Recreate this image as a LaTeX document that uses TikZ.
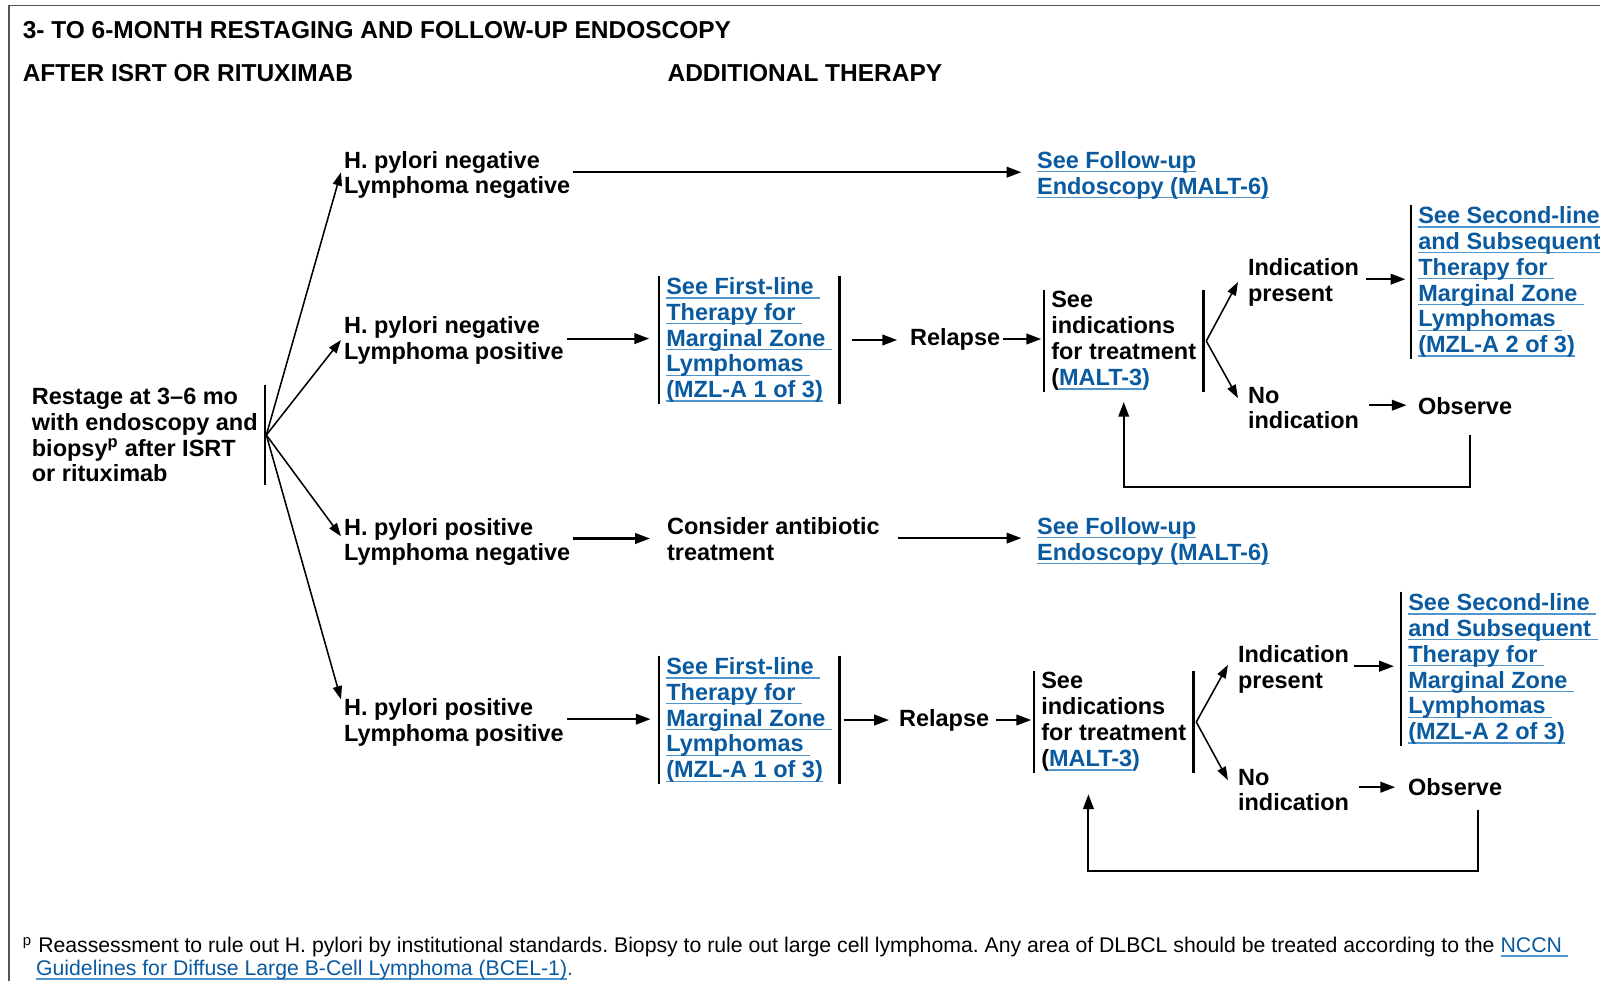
\documentclass[tikz,border=0pt]{standalone}
\usepackage{fontspec}
\setmainfont{Liberation Sans}
\usepackage{tikz}
\usetikzlibrary{arrows.meta}
\definecolor{linkblue}{RGB}{10,90,160}
\definecolor{ulblue}{RGB}{80,150,205}
\definecolor{framegray}{RGB}{85,85,85}
% underlined link text, the rule runs through the descenders
\newcommand{\lnk}[1]{\leavevmode\setbox0=\hbox{\color{linkblue}#1}\rlap{\textcolor{ulblue}{\rule[-3pt]{\wd0}{1.1pt}}}\box0}

\begin{document}
\frenchspacing
\begin{tikzpicture}[
  x=0.025cm, y=-0.025cm,
  >={Triangle[length=10.5pt,width=7.5pt]},
  every node/.style={font=\fontsize{16.7}{18.4}\selectfont\bfseries},
  txt/.style={anchor=west, align=left, inner sep=2pt},
  hdr/.style={anchor=west, inner sep=2pt, font=\fontsize{17.4}{20}\selectfont\bfseries},
  box/.style={anchor=west, align=left, inner xsep=5pt, inner ysep=1pt},
  bar/.style={line width=2pt},
  flow/.style={->, line width=1.5pt},
  fork/.style={->, line width=1.1pt, >={Triangle[length=9.5pt,width=6.5pt]}}
]
  \useasboundingbox (0,0) rectangle (1600,981);
  \draw[line width=1.4pt, framegray] (9,981) -- (9,5.5) -- (1600,5.5);

  \node[hdr] (title) at (19.7,29.6) {3- TO 6-MONTH RESTAGING AND FOLLOW-UP ENDOSCOPY};
  \node[hdr] (hleft) at (19.7,73.5) {AFTER ISRT OR RITUXIMAB};
  \node[hdr] (hright) at (664.5,73.5) {ADDITIONAL THERAPY};

  % restaging
  \node[txt] (rs) at (28.8,435) {Restage at 3–6 mo\\with endoscopy and\\biopsy\textsuperscript{p} after ISRT\\or rituximab};
  \draw[bar] ([xshift=3pt]rs.north east) -- ([xshift=3pt]rs.south east);
  \coordinate (rsf) at ([xshift=4pt]rs.east);

  \node[txt] (h1) at (341,175) {H. pylori negative\\Lymphoma negative};
  \node[txt] (h2) at (341,340) {H. pylori negative\\Lymphoma positive};
  \node[txt] (h3) at (341,542) {H. pylori positive\\Lymphoma negative};
  \node[txt] (h4) at (341,722) {H. pylori positive\\Lymphoma positive};

  \draw[fork] (rsf) -- ([yshift=2pt]h1.west);
  \draw[fork] (rsf) -- (h2.west);
  \draw[fork] (rsf) -- ([yshift=4pt]h3.west);
  \draw[fork] (rsf) -- ([yshift=16pt]h4.west);

  % row 1
  \node[txt] (f1) at (1034,175) {\lnk{See Follow-up}\\\lnk{Endoscopy (MALT-6)}};
  \draw[flow, shorten >=9pt] ([yshift=2pt]h1.east) -- ([yshift=2pt]h1.east -| f1.west);

  % row 2
  \node[box] (m1) at (659,340) {\lnk{See First-line\ }\\\lnk{Therapy for\ }\\\lnk{Marginal Zone\ }\\\lnk{Lymphomas\ }\\\lnk{(MZL-A 1 of 3)}};
  \draw[bar] (m1.north west) -- (m1.south west);
  \draw[bar] (m1.north east) -- (m1.south east);
  \node[txt] (rl1) at (907,339) {Relapse};
  \node[box] (si1) at (1044,341) {See\\indications\\for treatment\\(\lnk{MALT-3})};
  \draw[bar] (si1.north west) -- (si1.south west);
  \draw[bar] (si1.north east) -- (si1.south east);
  \coordinate (si1f) at ([xshift=2pt]si1.east);
  \node[txt] (ip1) at (1245,282) {Indication\\present};
  \node[txt] (ni1) at (1245,408) {No\\indication};
  \node[box] (s21) at (1411,282) {\lnk{See Second-line\ }\\\lnk{and Subsequent\ }\\\lnk{Therapy for\ }\\\lnk{Marginal Zone\ }\\\lnk{Lymphomas\ }\\\lnk{(MZL-A 2 of 3)}};
  \draw[bar] (s21.north west) -- (s21.south west);
  \node[txt] (ob1) at (1415,406) {Observe};

  \draw[flow, shorten >=7pt] ([yshift=1pt]h2.east) -- ([yshift=1pt]h2.east -| m1.west);
  \draw[flow, shorten <=9pt, shorten >=7pt] (m1.east) -- (m1.east -| rl1.west);
  \draw[flow, shorten >=2pt] (rl1.east) -- (rl1.east -| si1.west);
  \draw[fork] (si1f) -- ([xshift=-5pt]ip1.west);
  \draw[fork] (si1f) -- ([xshift=-5pt,yshift=7pt]ni1.west);
  \draw[flow, shorten <=3pt, shorten >=4pt] ([yshift=2pt]ip1.east) -- ([yshift=2pt]ip1.east -| s21.west);
  \draw[flow, shorten <=5pt, shorten >=6pt] ([yshift=2pt]ni1.east) -- ([yshift=2pt]ni1.east -| ob1.west);
  \draw[flow] ([xshift=3.5pt,yshift=-12pt]ob1.south) -- ++(0,52) -| ([yshift=-7pt]si1.south);

  % row 3
  \node[txt] (c3) at (664,539.5) {Consider antibiotic\\treatment};
  \node[txt] (f3) at (1034,541) {\lnk{See Follow-up}\\\lnk{Endoscopy (MALT-6)}};
  \draw[flow, shorten >=10pt] ([yshift=2.5pt]h3.east) -- ([yshift=2.5pt]h3.east -| c3.west);
  \draw[flow, shorten <=11pt, shorten >=9pt] ([yshift=1pt]c3.east) -- ([yshift=1pt]c3.east -| f3.west);

  % row 4
  \node[box] (m2) at (659,720) {\lnk{See First-line\ }\\\lnk{Therapy for\ }\\\lnk{Marginal Zone\ }\\\lnk{Lymphomas\ }\\\lnk{(MZL-A 1 of 3)}};
  \draw[bar] (m2.north west) -- (m2.south west);
  \draw[bar] (m2.north east) -- (m2.south east);
  \node[txt] (rl2) at (896,720) {Relapse};
  \node[box] (si2) at (1034,722) {See\\indications\\for treatment\\(\lnk{MALT-3})};
  \draw[bar] (si2.north west) -- (si2.south west);
  \draw[bar] (si2.north east) -- (si2.south east);
  \coordinate (si2f) at ([xshift=2pt]si2.east);
  \node[txt] (ip2) at (1235,669) {Indication\\present};
  \node[txt] (ni2) at (1235,790) {No\\indication};
  \node[box] (s22) at (1401,669) {\lnk{See Second-line\ }\\\lnk{and Subsequent\ }\\\lnk{Therapy for\ }\\\lnk{Marginal Zone\ }\\\lnk{Lymphomas\ }\\\lnk{(MZL-A 2 of 3)}};
  \draw[bar] (s22.north west) -- (s22.south west);
  \node[txt] (ob2) at (1405,787) {Observe};

  \draw[flow, shorten >=6pt] ([yshift=2pt]h4.east) -- ([yshift=2pt]h4.east -| m2.west);
  \draw[flow, shorten <=3pt, shorten >=5pt] (m2.east) -- (m2.east -| rl2.west);
  \draw[flow, shorten <=3pt, shorten >=2pt] (rl2.east) -- (rl2.east -| si2.west);
  \draw[fork] (si2f) -- ([xshift=-5pt,yshift=3pt]ip2.west);
  \draw[fork] (si2f) -- ([xshift=-5pt,yshift=7pt]ni2.west);
  \draw[flow, shorten <=1pt, shorten >=5pt] ([yshift=2pt]ip2.east) -- ([yshift=2pt]ip2.east -| s22.west);
  \draw[flow, shorten <=5pt, shorten >=7pt] ([yshift=2pt]ni2.east) -- ([yshift=2pt]ni2.east -| ob2.west);
  \draw[flow] ([xshift=16pt,yshift=-8pt]ob2.south) -- ++(0,61) -| ([xshift=-18pt,yshift=-15pt]si2.south);

  % footnote
  \node[txt, font=\fontsize{15.1}{16.4}\selectfont] (fn) at (19.7,958.5) {\makebox[11pt][l]{\textsuperscript{p}}Reassessment to rule out H. pylori by institutional standards. Biopsy to rule out large cell lymphoma. Any area of DLBCL should be treated according to the \lnk{NCCN\ }\\\hspace*{9.5pt}\lnk{Guidelines for Diffuse Large B-Cell Lymphoma (BCEL-1)}.};
\end{tikzpicture}
\end{document}
